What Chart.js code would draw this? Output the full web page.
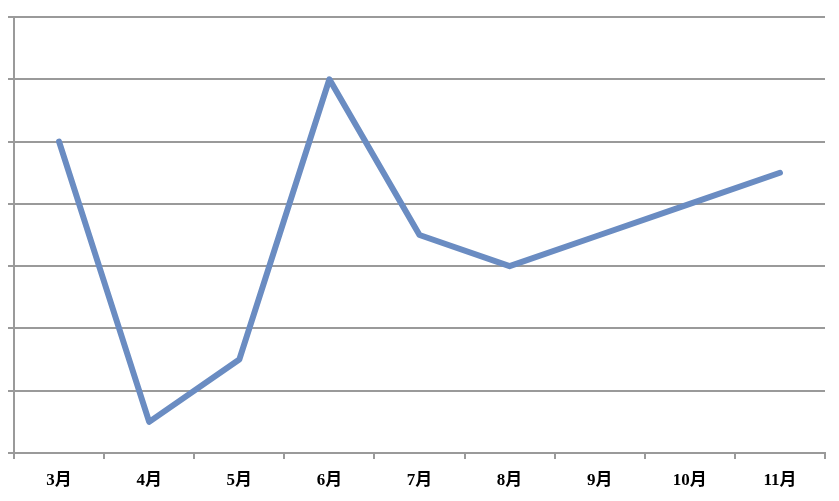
<!DOCTYPE html>
<html>
<head>
<meta charset="utf-8">
<script src="https://cdn.jsdelivr.net/npm/chart.js@4/dist/chart.umd.min.js"></script>
<style>
  html, body { margin: 0; padding: 0; background: #fff; }
  #wrap { width: 839px; height: 501px; }
</style>
</head>
<body>
<div id="wrap"><canvas id="chart" width="839" height="501"></canvas></div>
<script>
// months on the category axis
const months = ["3月", "4月", "5月", "6月", "7月", "8月", "9月", "10月", "11月"];
// values (no scale labels shown, 0..7)
const values = [5, 0.5, 1.5, 6, 3.5, 3, 3.5, 4, 4.5];
const yMin = 0;
const yMax = 7;

const gridColor = "#9a9a9a";

new Chart(document.getElementById("chart"), {
  type: "line",
  data: {
    labels: months,
    datasets: [
      {
        data: values,
        borderColor: "#6a8cc2",
        borderWidth: 6,
        pointRadius: 0,
        tension: 0,
        fill: false,
        borderJoinStyle: "round",
        borderCapStyle: "round",
      },
    ],
  },
  options: {
    responsive: false,
    animation: false,
    layout: { padding: { top: 17, right: 14, left: 0, bottom: 0 } },
    plugins: {
      legend: { display: false },
      tooltip: { enabled: false },
    },
    scales: {
      x: {
        offset: true,
        grid: {
          offset: true,
          display: true,
          drawOnChartArea: false,
          drawTicks: true,
          tickLength: 6,
          color: gridColor,
          lineWidth: 2,
        },
        border: { display: true, color: gridColor, width: 2 },
        ticks: {
          color: "#000",
          padding: 11,
          font: {
            family: "'Liberation Serif', 'Noto Sans CJK JP', serif",
            size: 17,
            weight: "bold",
          },
        },
        afterFit: (scale) => {
          scale.height = 48;
        },
      },
      y: {
        min: yMin,
        max: yMax,
        ticks: { display: false, stepSize: 1 },
        grid: {
          color: gridColor,
          lineWidth: 2,
          drawTicks: true,
          tickLength: 6,
        },
        border: { display: true, color: gridColor, width: 2 },
        afterFit: (scale) => {
          scale.width = 14;
        },
      },
    },
  },
});
</script>
</body>
</html>
